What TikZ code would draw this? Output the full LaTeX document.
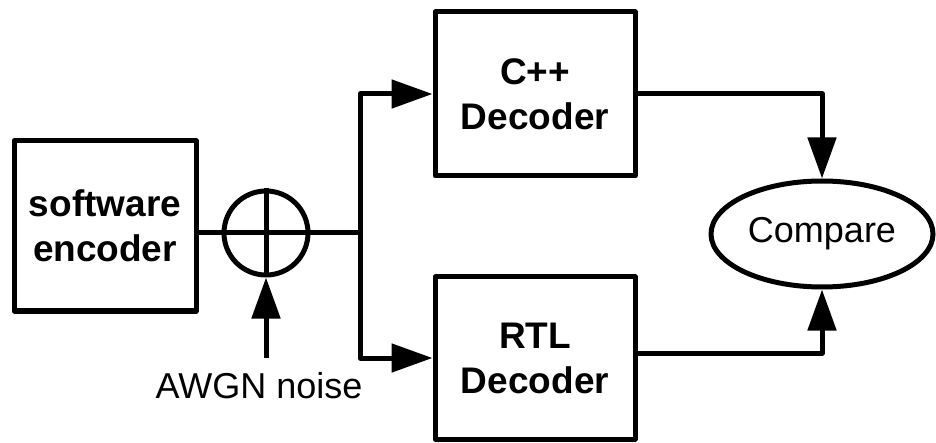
\documentclass[tikz,border=0pt]{standalone}
\usepackage{fontspec}
\setmainfont{Liberation Sans}
\usetikzlibrary{arrows.meta,shapes.geometric}
\begin{document}
\begin{tikzpicture}[x=1pt,y=-1pt,
  lw/.style={line width=5pt,line join=round},
  blk/.style={lw,draw,rectangle,inner sep=0pt,align=center,font=\fontsize{37}{45}\selectfont\bfseries},
  arr/.style={lw,-{Triangle[length=41pt,width=28pt]}},
  lbl/.style={font=\fontsize{36}{45}\selectfont,inner sep=0pt}]
\useasboundingbox (0,0) rectangle (936,443);
\node[blk,minimum width=182pt,minimum height=170pt] (enc) at (105,226) {software\\encoder};
\node[blk,minimum width=200pt,minimum height=164pt] (cpp) at (535,94) {C++\\Decoder};
\node[blk,minimum width=200pt,minimum height=162pt] (rtl) at (535,358) {RTL\\Decoder};
\node[lw,draw,circle,minimum size=84pt,inner sep=0pt] (sum) at (266,233) {};
\node[lw,draw,ellipse,minimum width=222pt,minimum height=106pt,inner sep=0pt,font=\fontsize{36}{45}\selectfont] (cmp) at (822,234) {Compare};
\node[lbl] (awgn) at (259,386) {AWGN noise};
\coordinate (split) at (360,233);
\coordinate (nin) at (266,358);
\draw[lw] (enc.east |- split) -- (split);
\draw[lw] (sum.north) -- (sum.south);
\draw[arr] (split) |- (cpp.west);
\draw[arr] (split) |- (rtl.west);
\draw[arr] (nin) -- (sum.south);
\draw[arr] (cpp.east) -| (cmp.north);
\draw[arr] ([yshift=5pt]rtl.east) -| (cmp.south);
\end{tikzpicture}
\end{document}
